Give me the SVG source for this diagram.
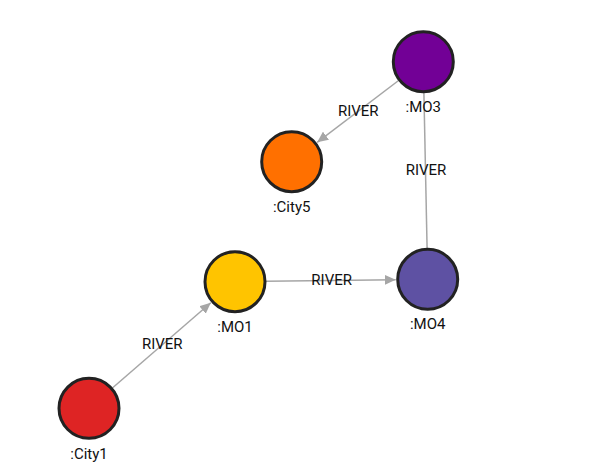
<svg xmlns="http://www.w3.org/2000/svg" width="593" height="476" viewBox="0 0 593 476">
<defs>
<style>
.edge{stroke:#a6a6a6;stroke-width:1.5;fill:none}
.node circle{stroke:#222;stroke-width:3}
text{font-family:Roboto,"Liberation Sans",sans-serif;font-size:15px;fill:#111;text-anchor:middle}
</style>
<marker id="arr" markerUnits="userSpaceOnUse" markerWidth="12" markerHeight="10" refX="11" refY="5" orient="auto">
<path d="M0,0 L11,5 L0,10 Z" fill="#a6a6a6"/>
</marker>
</defs>
<rect width="593" height="476" fill="#fff"/>
<g id="connectors">
<line class="edge" x1="112.4" y1="388" x2="210.8" y2="302.7" marker-end="url(#arr)"/>
<text x="162.3" y="348.8">RIVER</text>
<line class="edge" x1="266" y1="281.3" x2="395.7" y2="279.7" marker-end="url(#arr)"/>
<text x="331.7" y="284.5">RIVER</text>
<line class="edge" x1="427.1" y1="248.3" x2="423.9" y2="92.7"/>
<text x="426" y="175">RIVER</text>
<line class="edge" x1="398.6" y1="80.5" x2="317.2" y2="142.3" marker-end="url(#arr)"/>
<text x="358.3" y="115.8">RIVER</text>
</g>
<g id="City1" class="node"><circle cx="89" cy="408.3" r="30" fill="#de2424"/><text x="89" y="458.5">:City1</text></g>
<g id="MO1" class="node"><circle cx="235" cy="281.7" r="30" fill="#ffc400"/><text x="235" y="332">:MO1</text></g>
<g id="MO4" class="node"><circle cx="427.7" cy="279.3" r="30" fill="#5e51a3"/><text x="427.7" y="329">:MO4</text></g>
<g id="MO3" class="node"><circle cx="423.3" cy="61.7" r="30" fill="#720096"/><text x="423.3" y="112">:MO3</text></g>
<g id="City5" class="node"><circle cx="291.7" cy="161.7" r="30" fill="#ff7000"/><text x="291.7" y="211.5">:City5</text></g>
</svg>
